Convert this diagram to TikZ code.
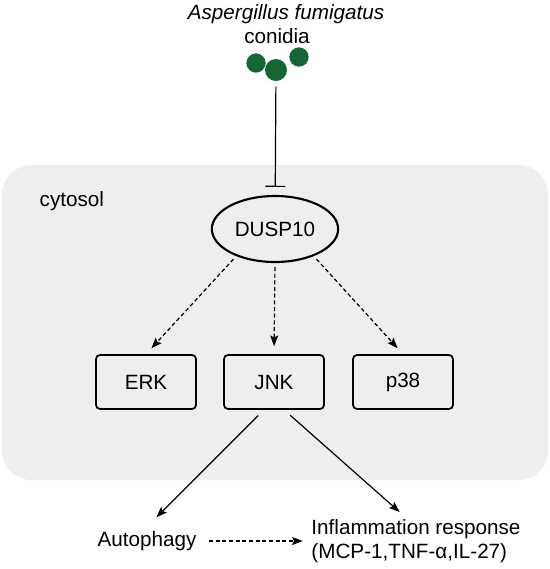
\documentclass[tikz,border=0pt]{standalone}
\usepackage{fontspec}
\setmainfont{Liberation Sans}
\usepackage{xcolor}
\usepackage{tikz}
\usetikzlibrary{shapes.geometric,arrows.meta}

\definecolor{sporegreen}{RGB}{22,102,52}
\definecolor{cellgray}{RGB}{238,238,238}

\begin{document}
\begin{tikzpicture}[x=0.75pt,y=-0.75pt,
	every node/.style={font=\fontsize{15.5}{18}\selectfont},
	kinase/.style={draw,line width=1.3pt,rounded corners=3pt,minimum width=75pt,minimum height=40.5pt,inner sep=0pt},
	spore/.style={circle,fill=sporegreen,inner sep=0pt},
	actarrow/.style={-{Stealth[length=8pt,width=6pt,inset=1.5pt]},line width=0.9pt},
	dasharrow/.style={actarrow,dash pattern=on 3pt off 2pt}]
	\useasboundingbox (0,0) rectangle (550,569);
	\fill[cellgray,rounded corners=22pt] (2,165) rectangle (548,480);
	\node[anchor=base west] (cyto) at (35,206) {cytosol};
	
	\node[anchor=base] (species) at (286,19) {\itshape Aspergillus fumigatus};
	\node[anchor=base] (conidia) at (277,43) {conidia};
	\foreach \x/\y/\d/\n in {256/63/14.5/c1,276/70/16.5/c2,299/57/14.5/c3}
		\node[spore,minimum size=\d pt] (\n) at (\x,\y) {};
	
	\node[ellipse,draw,line width=1.6pt,minimum width=82.5pt,minimum height=49.5pt] (dusp) at (275,229) {DUSP10};
	\draw[-{Bar[width=15pt]},line width=0.9pt,shorten <=4pt,shorten >=6pt] (c2) -- (dusp);
	
	\foreach \x/\k in {146/ERK,274/JNK,403/p38}
		\node[kinase] (\k) at (\x,382) {\k};
	
	\draw[dasharrow,shorten <=3pt,shorten >=6pt] (dusp.215) -- (ERK.north);
	\draw[dasharrow,shorten <=3pt,shorten >=6pt] (dusp.south) -- (JNK.north);
	\draw[dasharrow,shorten <=3pt,shorten >=6pt] (dusp.325) -- (p38.north);
	
	\node (auto) at (147,541) {Autophagy};
	\node[align=left] (infl) at (416,541) {Inflammation response\\(MCP-1,TNF-α,IL-27)};
	
	\draw[actarrow,shorten <=6pt,shorten >=10pt] (JNK.-110) -- (auto.north);
	\draw[actarrow,shorten <=6pt,shorten >=3pt] (JNK.-70) -- (infl.117);
	\draw[dasharrow,shorten <=6pt,shorten >=3pt] (auto.east) -- (infl.west);
\end{tikzpicture}
\end{document}
